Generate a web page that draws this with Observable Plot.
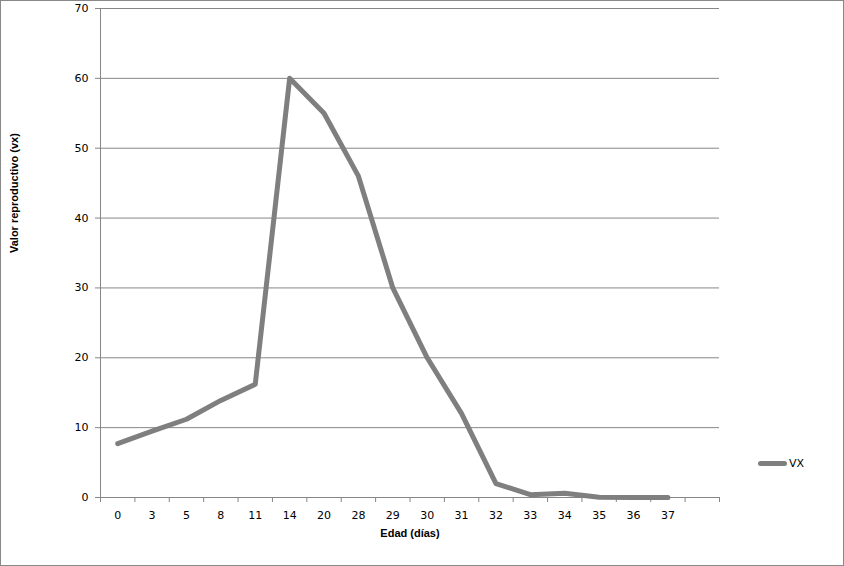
<!DOCTYPE html>
<html>
<head>
<meta charset="utf-8">
<script src="https://cdn.jsdelivr.net/npm/d3@7"></script>
<script src="https://cdn.jsdelivr.net/npm/@observablehq/plot@0.6"></script>
<style>
  html, body { margin: 0; padding: 0; background: #fff; }
  #wrap { position: relative; width: 844px; height: 566px; overflow: hidden; }
  #border { position: absolute; left: 0; top: 0; width: 842px; height: 564px; border: 1px solid #888; pointer-events: none; }
  #legend { position: absolute; left: 758px; top: 457px; display: flex; align-items: center; font: 11px "DejaVu Sans", sans-serif; color: #000; }
  #legend .sw { width: 29px; height: 5px; border-radius: 3px; background: #7f7f7f; margin-right: 2px; }
</style>
</head>
<body>
<div id="wrap"><div id="border"></div><div id="legend"><span class="sw"></span><span>VX</span></div></div>
<script>
const categories = ["0","3","5","8","11","14","20","28","29","30","31","32","33","34","35","36","37"];
const values = [7.7, 9.5, 11.2, 13.9, 16.2, 60, 55, 46, 30, 20, 12, 2, 0.4, 0.6, 0.05, 0, 0];
const yTicks = [0, 10, 20, 30, 40, 50, 60, 70];
const seriesName = "VX";
const xLabel = "Edad (días)";
const yLabel = "Valor reproductivo (vx)";

const slots = [...categories, " "];
const data = categories.map((c, i) => ({cat: c, v: values[i]}));

const W = 844, H = 566, ml = 100, mr = 125, mt = 8, mb = 69;
const step = (W - ml - mr) / slots.length;
const grid = "#868686";

const chart = Plot.plot({
  width: W, height: H,
  marginLeft: ml, marginRight: mr, marginTop: mt, marginBottom: mb,
  style: {fontFamily: "DejaVu Sans, sans-serif", fontSize: "11px", color: "#000", background: "transparent"},
  x: {type: "point", domain: slots, padding: 0.5, round: false, axis: null},
  y: {domain: [0, 70], axis: null},
  marks: [
    Plot.ruleY(yTicks, {stroke: grid, strokeWidth: 1}),
    Plot.ruleX([slots[0]], {dx: -step / 2, stroke: grid, strokeWidth: 1}),
    Plot.axisY({ticks: yTicks, tickSize: 5, tickFormat: () => "", stroke: grid, strokeOpacity: 1, label: null}),
    Plot.axisY({ticks: yTicks, tickSize: 0, tickPadding: 12, fill: "#000", label: null, fontSize: 11}),
    Plot.axisX({ticks: slots, tickSize: 5, tickFormat: () => "", dx: -step / 2, stroke: grid, strokeOpacity: 1, label: null}),
    Plot.axisX({ticks: [slots[slots.length - 1]], tickSize: 5, tickFormat: () => "", dx: step / 2, stroke: grid, strokeOpacity: 1, label: null}),
    Plot.axisX({ticks: categories, tickSize: 0, tickPadding: 14, fill: "#000", label: null, fontSize: 11}),
    Plot.line(data, {x: "cat", y: "v", stroke: "#7f7f7f", strokeWidth: 5, strokeLinejoin: "round", strokeLinecap: "round"}),
    Plot.text([yLabel], {frameAnchor: "left", dx: -86, rotate: -90, fontWeight: "bold", fontFamily: "Liberation Sans, sans-serif", fontSize: 11, fill: "#000"}),
    Plot.text([xLabel], {frameAnchor: "bottom", dy: 39, fontWeight: "bold", fontFamily: "Liberation Sans, sans-serif", fontSize: 11, fill: "#000"})
  ]
});
document.getElementById("wrap").prepend(chart);
</script>
</body>
</html>
